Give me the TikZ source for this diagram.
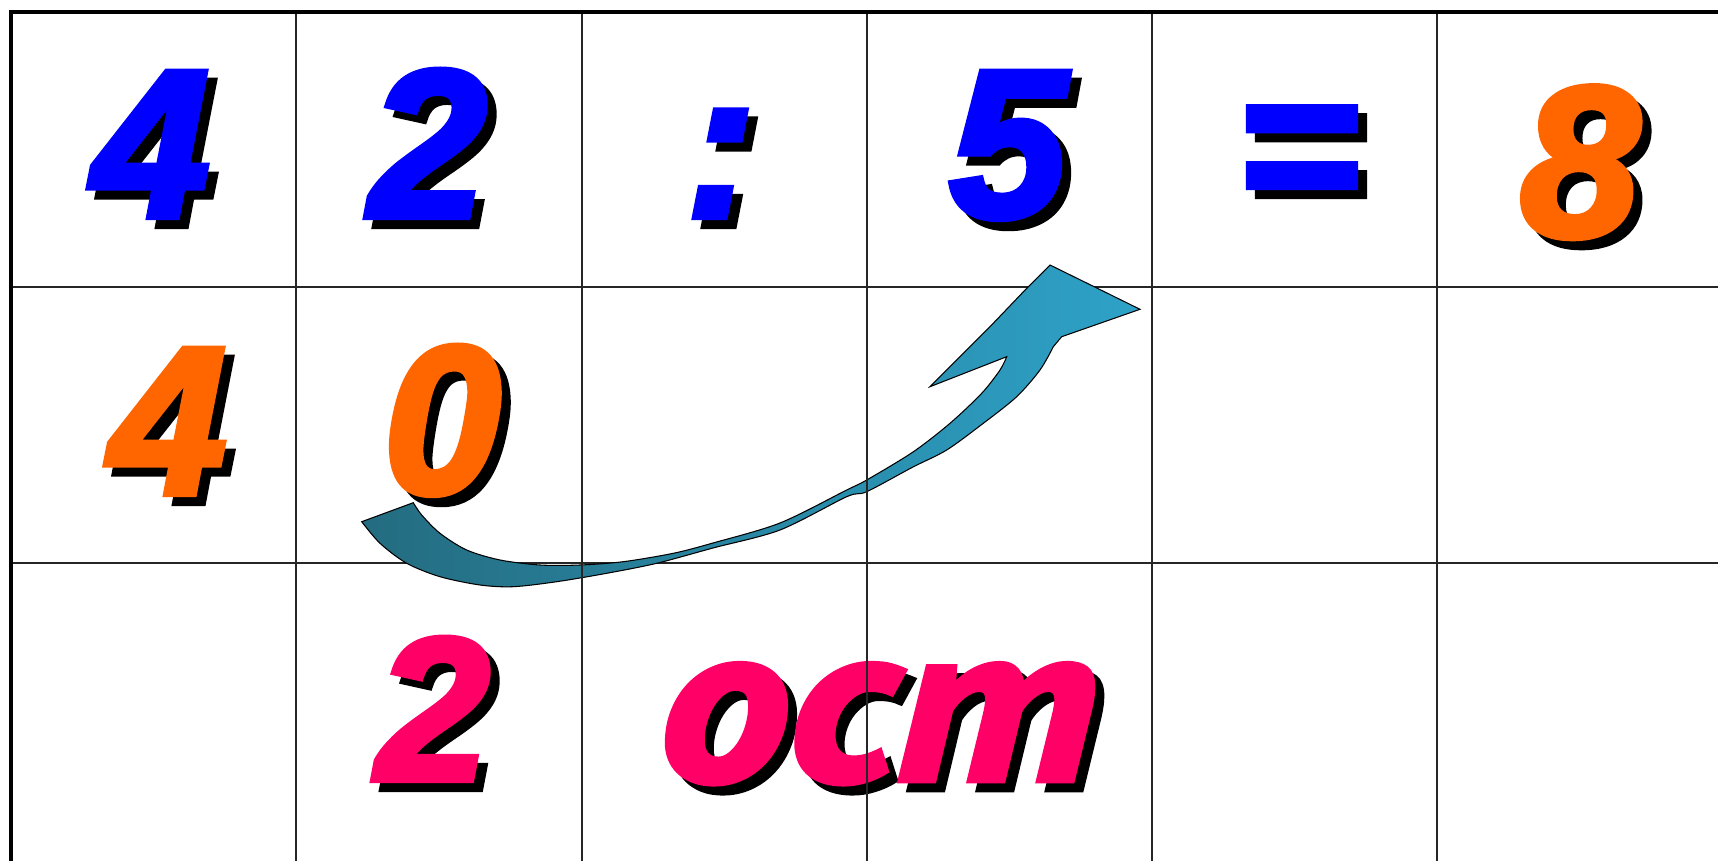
\documentclass[tikz,border=0pt]{standalone}
\usepackage{fontspec}
\setmainfont{Liberation Sans}[BoldItalicFeatures={FakeBold=3}]
\newfontfamily\restfont{PT Sans}[BoldItalicFeatures={FakeBold=3,FakeStretch=1.16}]
\usetikzlibrary{positioning}
\definecolor{digitblue}{RGB}{0,0,255}
\definecolor{digitorange}{RGB}{255,102,0}
\definecolor{remainpink}{RGB}{255,0,102}
\definecolor{tealdark}{RGB}{36,108,128}
\definecolor{teallight}{RGB}{46,162,200}
% name, position, colour, size, text
\newcommand{\shadowed}[5]{%
  \node[glyph,text=#3] (#1) at (#2) {\fontsize{#4}{#4}\selectfont
    \rlap{\kern0.09cm\raisebox{-0.09cm}{\color{black}#5}}#5};}

\begin{document}
\begin{tikzpicture}[x=0.01cm,y=-0.01cm,
    glyph/.style={inner sep=0pt,anchor=base,font=\bfseries\itshape},
    gridline/.style={draw=black!85,line width=0.6pt},
    frame/.style={draw=black,line width=0.9pt}]
  \useasboundingbox (0,0) rectangle (1718,861);
  \fill[white] (0,0) rectangle (1718,861);
  % rows
  \foreach \y in {287,563} \draw[gridline] (11,\y) -- (1718,\y);
  % carry arrow
  \shadedraw[left color=tealdark,right color=teallight,draw=black,line width=0.3pt]
    (361.7,521.7) -- (413.3,502.7)
    -- plot[smooth] coordinates {(413.3,502.7) (421.7,515) (440,533.3) (466.7,550) (500,560) (540,565) (580,565) (623.3,561.7) (673.3,553.3) (713,543) (780,523) (846.7,490) (866.7,480) (913,452) (950,423.3) (981.7,393.3) (1000,370) (1006.7,356.7)}
    -- (930,386.7) -- (990,326.7) -- (1026.7,288.3) -- (1050,265) -- (1140,309.3) -- (1061.7,336.7) -- (1053.3,346.7)
    -- plot[smooth] coordinates {(1053.3,346.7) (1040,370) (1016.7,396.7) (983.3,423.3) (946.7,450) (913,467) (866.7,491.7) (846.7,496.7) (780,530) (713,548) (656.7,563.3) (606.7,573.3) (556.7,581.7) (513.3,586.7) (480,585) (440,576.7) (406.7,563.3) (380,543.3) (361.7,521.7)}
    -- cycle;
  % first row
  \shadowed{d4}{151,217}{digitblue}{60}{4}
  \shadowed{d2}{428,217}{digitblue}{60}{2}
  \shadowed{colon}{721,217}{digitblue}{60}{:}
  \shadowed{d5}{1008,217}{digitblue}{60}{5}
  \shadowed{eq}{1298,217}{digitblue}{60}{=}
  \shadowed{q8}{1580,236}{digitorange}{61}{8}
  % second row
  \shadowed{p4}{168,494}{digitorange}{60}{4}
  \shadowed{p0}{442,493}{digitorange}{60}{0}
  % third row
  \shadowed{r2}{433,780}{remainpink}{58}{2}
  \shadowed{rest}{878,780}{remainpink}{64}{\restfont ост}
  % columns and frame
  \foreach \x in {296,582,867,1152,1437} \draw[gridline] (\x,12) -- (\x,861);
  \draw[frame] (11,861) -- (11,12) -- (1718,12);
\end{tikzpicture}
\end{document}
